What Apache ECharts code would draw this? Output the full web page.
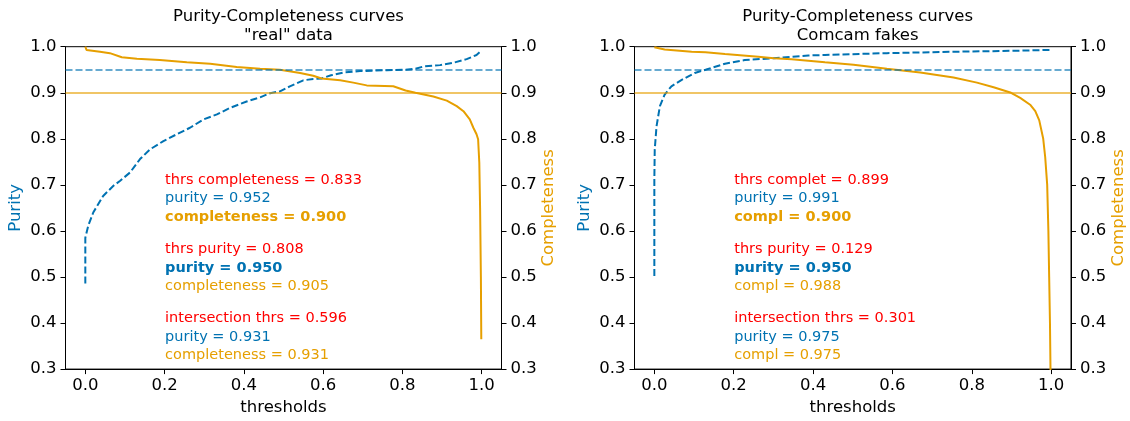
<!DOCTYPE html>
<html lang="en">
<head>
<meta charset="UTF-8">
<title>Purity-Completeness curves</title>
<script src="https://cdn.jsdelivr.net/npm/echarts@6/dist/echarts.min.js"></script>
<style>
  html, body { margin: 0; padding: 0; background: #fff; }
</style>
</head>
<body>
<div id="main" style="width: 1130px; height: 421px;"></div>
<script type="text/javascript">
// "real" data panel
var realPurityX = [0, 0, 0.0076, 0.020, 0.045, 0.071, 0.088, 0.113, 0.138, 0.163, 0.197, 0.231, 0.264, 0.298, 0.332, 0.365, 0.407, 0.441, 0.466, 0.491, 0.516, 0.55, 0.575, 0.596, 0.62, 0.651, 0.693, 0.76, 0.808, 0.833, 0.853, 0.895, 0.928, 0.962, 0.987, 1.0];
var realPurityY = [0.486, 0.585, 0.612, 0.64, 0.676, 0.698, 0.709, 0.727, 0.756, 0.777, 0.795, 0.81, 0.824, 0.842, 0.853, 0.867, 0.881, 0.89, 0.899, 0.903, 0.914, 0.927, 0.93, 0.931, 0.938, 0.944, 0.947, 0.949, 0.950, 0.952, 0.957, 0.96, 0.965, 0.973, 0.982, 0.992];
var realComplX = [0, 0.003, 0.037, 0.062, 0.092, 0.13, 0.188, 0.256, 0.315, 0.382, 0.441, 0.491, 0.542, 0.575, 0.596, 0.643, 0.676, 0.71, 0.777, 0.808, 0.833, 0.878, 0.912, 0.937, 0.954, 0.97, 0.979, 0.987, 0.991, 0.994, 0.996, 0.998, 0.999];
var realComplY = [1.0, 0.993, 0.989, 0.986, 0.977, 0.974, 0.971, 0.966, 0.963, 0.956, 0.952, 0.95, 0.943, 0.937, 0.931, 0.927, 0.922, 0.916, 0.914, 0.905, 0.900, 0.892, 0.883, 0.871, 0.86, 0.842, 0.824, 0.81, 0.799, 0.748, 0.65, 0.5, 0.365];

// Comcam fakes panel
var fakePurityX = [0, 0, 0.001, 0.0055, 0.014, 0.026, 0.043, 0.069, 0.102, 0.129, 0.178, 0.228, 0.301, 0.388, 0.43, 0.586, 0.754, 0.899, 1.0];
var fakePurityY = [0.502, 0.712, 0.777, 0.827, 0.871, 0.896, 0.914, 0.928, 0.943, 0.950, 0.963, 0.971, 0.975, 0.981, 0.982, 0.986, 0.989, 0.991, 0.993];
var fakeComplX = [0, 0.026, 0.094, 0.129, 0.178, 0.262, 0.301, 0.346, 0.43, 0.502, 0.586, 0.67, 0.754, 0.813, 0.855, 0.899, 0.922, 0.947, 0.96, 0.97, 0.98, 0.985, 0.99, 0.993, 0.995, 0.997, 0.999];
var fakeComplY = [0.999, 0.994, 0.989, 0.988, 0.984, 0.978, 0.975, 0.973, 0.966, 0.961, 0.952, 0.944, 0.933, 0.922, 0.912, 0.900, 0.889, 0.874, 0.86, 0.84, 0.80, 0.76, 0.70, 0.6, 0.5, 0.4, 0.25];

var xTicks = [0, 0.2, 0.4, 0.6, 0.8, 1.0];
var purityTarget = 0.95;
var complTarget = 0.9;

// annotations (x = 0.2 in data coords)
var noteX = 0.2;
var noteY = [0.71, 0.67, 0.63, 0.56, 0.52, 0.48, 0.41, 0.37, 0.33];
var noteKind = ['thr', 'pur', 'comB', 'thr', 'purB', 'com', 'thr', 'pur', 'com'];
var realNotes = ['thrs completeness = 0.833', 'purity = 0.952', 'completeness = 0.900',
                 'thrs purity = 0.808', 'purity = 0.950', 'completeness = 0.905',
                 'intersection thrs = 0.596', 'purity = 0.931', 'completeness = 0.931'];
var fakeNotes = ['thrs complet = 0.899', 'purity = 0.991', 'compl = 0.900',
                 'thrs purity = 0.129', 'purity = 0.950', 'compl = 0.988',
                 'intersection thrs = 0.301', 'purity = 0.975', 'compl = 0.975'];

var BLUE = '#0072B2', ORANGE = '#E69F00', RED = '#ff0000';
var FONT = 'DejaVu Sans';

function pairs(xs, ys) {
    var out = [];
    for (var i = 0; i < xs.length; i++) out.push([xs[i], ys[i]]);
    return out;
}

function notes(texts) {
    var colors = {thr: RED, pur: BLUE, purB: BLUE, com: ORANGE, comB: ORANGE};
    return texts.map(function (t, i) {
        var k = noteKind[i];
        return {
            value: [noteX, noteY[i]],
            label: {
                formatter: t,
                color: colors[k],
                fontWeight: (k === 'purB' || k === 'comB') ? 'bold' : 'normal'
            }
        };
    });
}

var grids = [
    {left: 65.5, top: 46.7, width: 436, height: 325},
    {left: 634.5, top: 46.7, width: 436.5, height: 325}
];

var axisLabelStyle = {fontFamily: FONT, fontSize: 16.5, color: '#000'};
var spine = {show: true, onZero: false, lineStyle: {color: '#000', width: 1}};

function xAxisFor(gi) {
    return {
        type: 'value', gridIndex: gi, min: -0.05, max: 1.05,
        name: 'thresholds', nameLocation: 'middle', nameGap: 28,
        nameTextStyle: {fontFamily: FONT, fontSize: 16.5, color: '#000', verticalAlign: 'top'},
        axisLine: spine,
        splitLine: {show: false},
        axisTick: {show: true, length: 5, inside: false, customValues: xTicks, lineStyle: {color: '#000', width: 1}},
        axisLabel: Object.assign({customValues: xTicks, margin: 8, formatter: function (v) { return v.toFixed(1); }}, axisLabelStyle)
    };
}

function yAxisFor(gi, pos, name, color) {
    return {
        type: 'value', gridIndex: gi, position: pos, min: 0.3, max: 1.0, interval: 0.1,
        name: name, nameLocation: 'middle', nameRotate: 90, nameGap: pos === 'left' ? 41 : 38,
        nameTextStyle: {fontFamily: FONT, fontSize: 16.5, color: color},
        axisLine: spine,
        splitLine: {show: false},
        axisTick: {show: true, length: 5, inside: false, lineStyle: {color: '#000', width: 1}},
        axisLabel: Object.assign({margin: 9, formatter: function (v) { return v.toFixed(1); }}, axisLabelStyle)
    };
}

function panelSeries(gi, purity, compl, noteData) {
    var yl = gi * 2, yr = gi * 2 + 1;
    return [
        {
            type: 'line', xAxisIndex: gi, yAxisIndex: yl, data: purity,
            symbol: 'none', z: 3,
            lineStyle: {color: BLUE, width: 2, type: [7, 3]},
            markLine: {
                silent: true, symbol: 'none', label: {show: false},
                lineStyle: {color: 'rgba(0,114,178,0.6)', width: 1.8, type: [7, 3]},
                data: [{yAxis: purityTarget}]
            }
        },
        {
            type: 'line', xAxisIndex: gi, yAxisIndex: yr, data: compl,
            symbol: 'none', z: 4,
            lineStyle: {color: ORANGE, width: 2, type: 'solid'},
            markLine: {
                silent: true, symbol: 'none', label: {show: false},
                lineStyle: {color: 'rgba(230,159,0,0.6)', width: 1.8, type: 'solid'},
                data: [{yAxis: complTarget}]
            }
        },
        {
            type: 'scatter', xAxisIndex: gi, yAxisIndex: yr, data: noteData,
            symbolSize: 1, itemStyle: {color: 'rgba(0,0,0,0)', opacity: 1}, z: 5,
            label: {show: true, position: 'right', distance: 0, fontFamily: FONT, fontSize: 14.5, opacity: 1}
        }
    ];
}

var myChart = echarts.init(document.getElementById('main'));
var option = {
    animation: false,
    backgroundColor: '#fff',
    title: [
        {
            text: 'Purity-Completeness curves\n"real" data',
            left: 283.5, top: 2, textAlign: 'center',
            textStyle: {fontFamily: FONT, fontSize: 16.5, fontWeight: 'normal', color: '#000', lineHeight: 19, align: 'center'}
        },
        {
            text: 'Purity-Completeness curves\nComcam fakes',
            left: 852.7, top: 2, textAlign: 'center',
            textStyle: {fontFamily: FONT, fontSize: 16.5, fontWeight: 'normal', color: '#000', lineHeight: 19, align: 'center'}
        }
    ],
    grid: grids.map(function (g) {
        return Object.assign({show: true, borderColor: '#000', borderWidth: 1, backgroundColor: 'transparent'}, g);
    }),
    xAxis: [xAxisFor(0), xAxisFor(1)],
    yAxis: [
        yAxisFor(0, 'left', 'Purity', BLUE), yAxisFor(0, 'right', 'Completeness', ORANGE),
        yAxisFor(1, 'left', 'Purity', BLUE), yAxisFor(1, 'right', 'Completeness', ORANGE)
    ],
    series: []
        .concat(panelSeries(0, pairs(realPurityX, realPurityY), pairs(realComplX, realComplY), notes(realNotes)))
        .concat(panelSeries(1, pairs(fakePurityX, fakePurityY), pairs(fakeComplX, fakeComplY), notes(fakeNotes)))
};
myChart.setOption(option);
</script>
</body>
</html>
